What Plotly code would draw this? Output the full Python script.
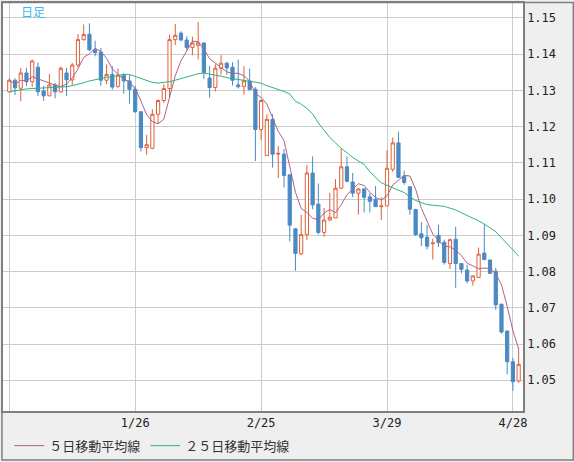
import pandas as pd
import plotly.graph_objects as go

# daily candles, 2021-12-27 .. 2022-04-29 (weekdays)
dates = [d.strftime("%Y-%m-%d") for d in pd.bdate_range("2021-12-27", "2022-04-29")]

open_ = [1.1296, 1.1328, 1.1306, 1.1348, 1.1324, 1.1364, 1.1298, 1.1285, 1.1315, 1.1296,
         1.1348, 1.1329, 1.1370, 1.1440, 1.1455, 1.1412, 1.1406, 1.1328, 1.1344, 1.1311,
         1.1342, 1.1326, 1.1303, 1.1241, 1.1142, 1.1140, 1.1234, 1.1272, 1.1305, 1.1440,
         1.1458, 1.1439, 1.1418, 1.1424, 1.1431, 1.1334, 1.1308, 1.1361, 1.1375, 1.1364,
         1.1315, 1.1311, 1.1326, 1.1303, 1.1192, 1.1120, 1.1220, 1.1124, 1.1124, 1.1067,
         1.0918, 1.0849, 1.0902, 1.1072, 1.0986, 1.0908, 1.0942, 1.0948, 1.1030, 1.1089,
         1.1047, 1.1016, 1.1028, 1.1006, 1.0999, 1.0979, 1.0981, 1.1082, 1.1155, 1.1063,
         1.1034, 1.0971, 1.0904, 1.0895, 1.0877, 1.0900, 1.0881, 1.0822, 1.0889, 1.0822,
         1.0804, 1.0774, 1.0784, 1.0851, 1.0832, 1.0801, 1.0710, 1.0636, 1.0551, 1.0498]
high = [1.1333, 1.1333, 1.1362, 1.1362, 1.1385, 1.1377, 1.1312, 1.1346, 1.1321, 1.1366,
        1.1362, 1.1376, 1.1455, 1.1482, 1.1485, 1.1437, 1.1417, 1.1372, 1.1367, 1.1360,
        1.1348, 1.1342, 1.1312, 1.1243, 1.1177, 1.1248, 1.1275, 1.1317, 1.1454, 1.1483,
        1.1463, 1.1449, 1.1448, 1.1489, 1.1431, 1.1367, 1.1372, 1.1397, 1.1379, 1.1378,
        1.1385, 1.1367, 1.1360, 1.1309, 1.1275, 1.1234, 1.1234, 1.1147, 1.1138, 1.1067,
        1.0918, 1.0957, 1.1094, 1.1118, 1.1043, 1.0975, 1.1017, 1.1055, 1.1139, 1.1118,
        1.1072, 1.1030, 1.1030, 1.1016, 1.1036, 1.1005, 1.1135, 1.1170, 1.1186, 1.1078,
        1.1034, 1.0973, 1.0937, 1.0929, 1.0891, 1.0929, 1.0888, 1.0891, 1.0924, 1.0822,
        1.0819, 1.0790, 1.0866, 1.0931, 1.0832, 1.0810, 1.0710, 1.0636, 1.0562, 1.0590]
low = [1.1293, 1.1287, 1.1270, 1.1312, 1.1309, 1.1284, 1.1271, 1.1284, 1.1278, 1.1294,
       1.1284, 1.1315, 1.1362, 1.1437, 1.1408, 1.1394, 1.1313, 1.1317, 1.1302, 1.1307,
       1.1291, 1.1263, 1.1238, 1.1131, 1.1122, 1.1138, 1.1208, 1.1266, 1.1280, 1.1425,
       1.1436, 1.1411, 1.1397, 1.1385, 1.1331, 1.1280, 1.1297, 1.1343, 1.1343, 1.1313,
       1.1305, 1.1288, 1.1300, 1.1105, 1.1164, 1.1120, 1.1087, 1.1058, 1.1032, 1.0883,
       1.0802, 1.0845, 1.0887, 1.0972, 1.0902, 1.0896, 1.0940, 1.0948, 1.1028, 1.1046,
       1.1005, 1.0957, 1.0963, 1.0963, 1.0979, 1.0942, 1.0981, 1.1075, 1.1058, 1.1040,
       1.0957, 1.0898, 1.0870, 1.0861, 1.0833, 1.0868, 1.0819, 1.0807, 1.0755, 1.0795,
       1.0768, 1.0761, 1.0783, 1.0832, 1.0793, 1.0694, 1.0629, 1.0516, 1.0471, 1.0493]
close = [1.1328, 1.1307, 1.1348, 1.1324, 1.1381, 1.1296, 1.1285, 1.1315, 1.1296, 1.1361,
         1.1329, 1.1370, 1.1440, 1.1454, 1.1412, 1.1404, 1.1328, 1.1344, 1.1309, 1.1342,
         1.1326, 1.1303, 1.1241, 1.1142, 1.1150, 1.1234, 1.1272, 1.1305, 1.1440, 1.1452,
         1.1439, 1.1418, 1.1431, 1.1431, 1.1349, 1.1308, 1.1361, 1.1375, 1.1362, 1.1328,
         1.1310, 1.1326, 1.1302, 1.1192, 1.1272, 1.1220, 1.1124, 1.1126, 1.1065, 1.0928,
         1.0850, 1.0902, 1.1072, 1.0984, 1.0908, 1.0942, 1.0950, 1.1030, 1.1089, 1.1049,
         1.1016, 1.1028, 1.1005, 1.0994, 1.0979, 1.0981, 1.1085, 1.1155, 1.1060, 1.1046,
         1.0972, 1.0902, 1.0893, 1.0870, 1.0879, 1.0880, 1.0825, 1.0888, 1.0822, 1.0806,
         1.0774, 1.0788, 1.0848, 1.0833, 1.0795, 1.0708, 1.0633, 1.0551, 1.0496, 1.0544]

# 25-day average (needs history before the window)
ma25 = [1.1296, 1.1299, 1.1302, 1.1304, 1.1305, 1.1306, 1.1307, 1.1307, 1.1307, 1.1308,
        1.1310, 1.1313, 1.1316, 1.1321, 1.1326, 1.1330, 1.1333, 1.1336, 1.1338, 1.1341,
        1.1344, 1.1344, 1.1338, 1.1332, 1.1326, 1.1322, 1.1320, 1.1321, 1.1324, 1.1328,
        1.1333, 1.1338, 1.1342, 1.1346, 1.1348, 1.1346, 1.1342, 1.1339, 1.1335, 1.1332,
        1.1330, 1.1328, 1.1326, 1.1323, 1.1320, 1.1313, 1.1308, 1.1303, 1.1297, 1.1290,
        1.1270, 1.1262, 1.1250, 1.1235, 1.1210, 1.1190, 1.1170, 1.1155, 1.1140, 1.1128,
        1.1115, 1.1105, 1.1096, 1.1075, 1.1060, 1.1045, 1.1038, 1.1031, 1.1026, 1.1018,
        1.1006, 1.0996, 1.0990, 1.0985, 1.0983, 1.0982, 1.0980, 1.0975, 1.0970, 1.0962,
        1.0955, 1.0948, 1.0940, 1.0931, 1.0920, 1.0910, 1.0893, 1.0877, 1.0860, 1.0842]

tick_dates = ["2021-12-27", "2022-01-26", "2022-02-25", "2022-03-29", "2022-04-28"]
tick_text = ["", "1/26", "2/25", "3/29", "4/28"]
price_ticks = [1.05, 1.06, 1.07, 1.08, 1.09, 1.10, 1.11, 1.12, 1.13, 1.14, 1.15]

ma5 = pd.Series(close).rolling(5, min_periods=1).mean()

RED = "#e0603a"
BLUE = "#4a8ac4"
MONO = "DejaVu Sans Mono"
JP = "Noto Sans CJK JP"

fig = go.Figure()
fig.add_trace(go.Candlestick(
    x=dates, open=open_, high=high, low=low, close=close,
    increasing=dict(line=dict(color=RED, width=1), fillcolor="white"),
    decreasing=dict(line=dict(color=BLUE, width=1), fillcolor=BLUE),
    whiskerwidth=0, showlegend=False, hoverinfo="skip",
))
fig.add_trace(go.Scatter(x=dates, y=ma5, mode="lines", name="５日移動平均線",
                         line=dict(color="#b0608c", width=1)))
fig.add_trace(go.Scatter(x=dates, y=ma25, mode="lines", name="２５日移動平均線",
                         line=dict(color="#2fb37c", width=1)))

fig.update_layout(
    width=574, height=462,
    margin=dict(l=1, r=51, t=1, b=50),
    paper_bgcolor="#efefef", plot_bgcolor="white",
    boxgap=0.2,
    showlegend=True,
    legend=dict(orientation="h", x=0.012, xanchor="left", y=-0.085, yanchor="middle",
                font=dict(family=JP, size=13, color="#333333"),
                bgcolor="rgba(0,0,0,0)", itemwidth=30, tracegroupgap=0),
    annotations=[dict(text="日足", x=0.03, y=0.978, xref="paper", yref="paper",
                      xanchor="left", yanchor="middle", showarrow=False,
                      font=dict(family=JP, size=12, color="#3db8ee"))],
    shapes=[dict(type="rect", xref="paper", yref="paper",
                 x0=-0.002, x1=1.0968, y0=-0.1204, y1=1.001,
                 line=dict(color="#7f7f7f", width=1.5), layer="above")],
)
fig.update_xaxes(
    type="category", range=[-1.1, 89.76],
    tickvals=tick_dates, ticktext=tick_text,
    showgrid=True, gridcolor="#cccccc", gridwidth=1,
    showline=True, linecolor="#7f7f7f", linewidth=1.5, mirror=True,
    ticks="", tickfont=dict(family=MONO, size=12, color="#222222"),
    rangeslider=dict(visible=False), fixedrange=True,
)
fig.update_yaxes(
    side="right", range=[1.04151, 1.15411],
    tickvals=price_ticks, tickformat=".2f",
    showgrid=True, gridcolor="#cccccc", gridwidth=1, zeroline=False,
    showline=True, linecolor="#7f7f7f", linewidth=1.5, mirror=True,
    ticks="", tickfont=dict(family=MONO, size=12, color="#222222"),
    fixedrange=True,
)

# page body has a default 8px margin; drop it so the figure sits at the corner
fig.write_html("out.html", config={"displayModeBar": False},
               post_script="document.body.style.margin='0';")
